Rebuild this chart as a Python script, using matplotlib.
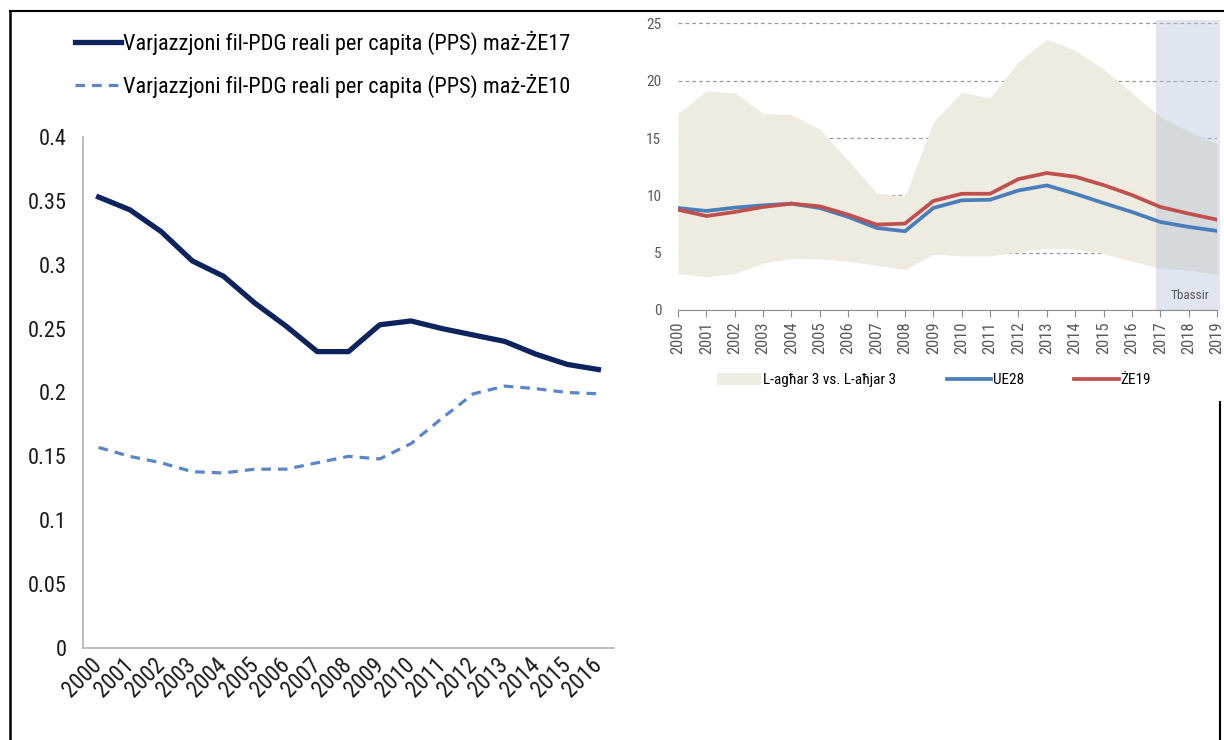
import matplotlib
matplotlib.use("Agg")
import matplotlib.pyplot as plt
from matplotlib import font_manager
from matplotlib.font_manager import FontProperties
from matplotlib.lines import Line2D
import matplotlib.transforms as mtransforms

# ---- data: left chart (dispersion of real GDP per capita) ----
years_left = ["2000", "2001", "2002", "2003", "2004", "2005", "2006", "2007", "2008",
              "2009", "2010", "2011", "2012", "2013", "2014", "2015", "2016"]
ze17 = [0.353, 0.343, 0.326, 0.303, 0.291, 0.270, 0.252, 0.232, 0.232,
        0.253, 0.256, 0.250, 0.245, 0.240, 0.230, 0.222, 0.218]
ze10 = [0.157, 0.150, 0.145, 0.138, 0.137, 0.140, 0.140, 0.145, 0.150,
        0.148, 0.160, 0.180, 0.199, 0.205, 0.203, 0.200, 0.199]
left_labels = ["Varjazzjoni fil-PDG reali per capita (PPS) maż-ŻE17",
               "Varjazzjoni fil-PDG reali per capita (PPS) maż-ŻE10"]

# ---- data: right chart ----
years_right = [2000, 2001, 2002, 2003, 2004, 2005, 2006, 2007, 2008, 2009,
               2010, 2011, 2012, 2013, 2014, 2015, 2016, 2017, 2018, 2019]
worst3 = [17.15, 19.1, 18.95, 17.15, 17.06, 15.76, 13.05, 10.2, 9.9, 16.4,
          19.0, 18.5, 21.65, 23.6, 22.67, 21.0, 18.95, 16.86, 15.6, 14.5]
best3 = [3.19, 2.9, 3.19, 4.1, 4.5, 4.46, 4.26, 3.9, 3.54, 4.87,
         4.72, 4.72, 5.07, 5.39, 5.36, 4.93, 4.26, 3.62, 3.48, 3.13]
ue28 = [8.9, 8.64, 8.93, 9.13, 9.28, 8.9, 8.12, 7.16, 6.87, 8.9,
        9.57, 9.62, 10.43, 10.87, 10.14, 9.33, 8.55, 7.68, 7.25, 6.9]
ze19 = [8.75, 8.2, 8.55, 8.99, 9.28, 9.04, 8.32, 7.45, 7.54, 9.51,
        10.14, 10.14, 11.42, 11.95, 11.63, 10.9, 10.03, 8.99, 8.41, 7.88]
forecast_start = 2016.85
right_labels = ["L-agħar 3 vs. L-aħjar 3", "UE28", "ŻE19"]

# pick a narrow font if there is one
entries = font_manager.fontManager.ttflist
names = {f.name for f in entries}
family, stretch, k = "DejaVu Sans", "normal", 0.8
for cand in ["Liberation Sans Narrow", "Roboto Condensed", "Open Sans Condensed",
             "Noto Sans Condensed", "Arial Narrow"]:
    if cand in names:
        family, stretch, k = cand, "normal", 1.0
        break
else:
    for f in entries:
        if f.name in ("DejaVu Sans", "Noto Sans", "Open Sans") and \
                str(f.stretch) in ("condensed", "semi-condensed", "75", "87.5"):
            family, stretch, k = f.name, f.stretch, 0.95
            break


def fp(size):
    return FontProperties(family=family, stretch=stretch, size=size * k)


W, H = 1224, 740
fig = plt.figure(figsize=(W / 100, H / 100), dpi=100)

# ================= left chart =================
ax = fig.add_axes([83 / W, 1 - 648 / H, 531 / W, 511 / H])
x = range(len(years_left))
ax.plot(x, ze17, color="#0c235e", lw=3.8, solid_joinstyle="round", label=left_labels[0])
ax.plot(x, ze10, color="#5a85c6", lw=2.3, dashes=(3, 2.2), label=left_labels[1])
ax.set_xlim(-0.5, len(years_left) - 0.5)
ax.set_ylim(0, 0.4)
ax.set_yticks([0, 0.05, 0.1, 0.15, 0.2, 0.25, 0.3, 0.35, 0.4])
ax.set_yticklabels(["0", "0.05", "0.1", "0.15", "0.2", "0.25", "0.3", "0.35", "0.4"],
                   fontproperties=fp(16), color="#1a1a1a")
ax.set_xticks(list(x))
ax.set_xticklabels(years_left, rotation=45, ha="right", va="center",
                   rotation_mode="anchor", fontproperties=fp(16.5), color="#1a1a1a")
off = mtransforms.ScaledTranslation(10 / 100, -12 / 100, fig.dpi_scale_trans)
for lab in ax.get_xticklabels():
    lab.set_transform(lab.get_transform() + off)
ax.tick_params(axis="both", length=0)
ax.tick_params(axis="y", pad=12)
ax.tick_params(axis="x", pad=10)
for s in ["top", "right"]:
    ax.spines[s].set_visible(False)
for s in ["left", "bottom"]:
    ax.spines[s].set_color("#b0b0b0")
    ax.spines[s].set_linewidth(1.2)

h, l = ax.get_legend_handles_labels()
fig.legend(h, l, loc="center left", bbox_to_anchor=(75 / W, 1 - 64 / H),
           frameon=False, borderpad=0, borderaxespad=0, handlelength=2.05,
           handletextpad=0.1, labelspacing=0.85, prop=fp(16))

# ================= right chart =================
ax2 = fig.add_axes([678 / W, 1 - 310 / H, 539 / W, 290 / H])
grey = "#595959"
ax2.set_xlim(2000, 2019)
ax2.set_ylim(0, 25.3)
ax2.set_yticks([0, 5, 10, 15, 20, 25])
ax2.grid(axis="y", color="#9a9a9a", lw=0.9, dashes=(3, 2.5), zorder=0)
ax2.set_axisbelow(True)
ax2.fill_between(years_right, best3, worst3, color="#eeebe0", lw=0, zorder=1,
                 label=right_labels[0])
ax2.axvspan(forecast_start, 2019.1, color="#b4c0d7", alpha=0.4, lw=0, zorder=2,
            clip_on=False)
ax2.plot(years_right, ue28, color="#4a7ebb", lw=2.7, zorder=3, label=right_labels[1])
ax2.plot(years_right, ze19, color="#c0504d", lw=2.7, zorder=4, label=right_labels[2])
ax2.text(2018.05, 1.3, "Tbassir", fontproperties=fp(9.5), color=grey,
         ha="center", va="center", zorder=5)
ax2.set_xticks(years_right)
ax2.set_xticklabels([str(y) for y in years_right], rotation=90,
                    fontproperties=fp(12), color=grey)
ax2.set_yticklabels(["0", "5", "10", "15", "20", "25"], fontproperties=fp(11),
                    color=grey)
ax2.tick_params(axis="y", length=0, pad=12)
ax2.tick_params(axis="x", length=5, color="#8c8c8c", direction="out", pad=3)
for s in ["top", "right", "left"]:
    ax2.spines[s].set_visible(False)
ax2.spines["bottom"].set_color("#8c8c8c")

h2, l2 = ax2.get_legend_handles_labels()
fig.legend(h2, l2, loc="center left", bbox_to_anchor=(717 / W, 1 - 380 / H), ncol=3,
           frameon=False, borderpad=0, borderaxespad=0, handlelength=2.9,
           handleheight=0.8, handletextpad=0.12, columnspacing=3.3, prop=fp(11))

# ---- frame lines of the picture ----
fig.add_artist(Line2D([9.5 / W, 1], [1 - 11 / H, 1 - 11 / H], color="black", lw=1.5))
fig.add_artist(Line2D([9.5 / W, 9.5 / W], [0, 1 - 11 / H], color="black", lw=1.8))
fig.add_artist(Line2D([1219.5 / W, 1219.5 / W], [0, 1 - 402 / H], color="black", lw=1.5))

fig.savefig("out.png", dpi=100)
